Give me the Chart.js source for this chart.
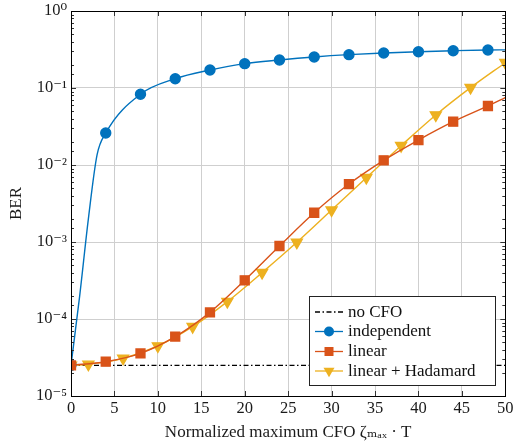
<!DOCTYPE html>
<html>
<head>
<meta charset="utf-8">
<script src="https://cdn.jsdelivr.net/npm/chart.js@4"></script>
<style>
  html, body { margin: 0; padding: 0; background: #fff; }
  #berChart { display: block; }
</style>
</head>
<body>
<canvas id="berChart" width="513" height="443"></canvas>
<script>
// values
const indepX = [0, 1, 2, 3, 4, 8, 12, 16, 20, 24, 28, 32, 36, 40, 44, 48, 50];
const indepBer = [2.5e-5, 2.0e-4, 2.0e-3, 1.35e-2, 0.026, 0.083, 0.132, 0.171, 0.207, 0.231, 0.253, 0.271, 0.285, 0.296, 0.305, 0.312, 0.313];
const indepMarks = [1, 0, 0, 0, 1, 1, 1, 1, 1, 1, 1, 1, 1, 1, 1, 1, 0];

const linX = [0, 4, 8, 12, 16, 20, 24, 28, 32, 36, 40, 44, 48, 50];
const linBer = [2.5e-5, 2.79e-5, 3.58e-5, 5.9e-5, 1.22e-4, 3.18e-4, 8.87e-4, 2.4e-3, 5.66e-3, 0.0115, 0.0211, 0.0365, 0.0584, 0.0748];
const linMarks = [1, 1, 1, 1, 1, 1, 1, 1, 1, 1, 1, 1, 1, 0];

const hadX = [0, 2, 6, 10, 14, 18, 22, 26, 30, 34, 38, 42, 46, 50];
const hadBer = [2.5e-5, 2.58e-5, 3.08e-5, 4.46e-5, 7.94e-5, 1.68e-4, 4.0e-4, 9.9e-4, 2.6e-3, 6.85e-3, 0.0178, 0.0446, 0.101, 0.213];

const noCfoX = [0, 50];
const noCfoBer = [2.5e-5, 2.5e-5];

const legendLabels = ["no CFO", "independent", "linear", "linear + Hadamard"];

const BLUE = "#0072BD";
const ORANGE = "#D95319";
const YELLOW = "#EDB120";
const SERIF = "'Liberation Serif', 'DejaVu Serif', serif";

const pts = (xs, ys) => xs.map((x, i) => ({ x: x, y: ys[i] }));

const SUP = { "0": "⁰", "1": "¹", "2": "²", "3": "³", "4": "⁴", "5": "⁵", "-": "⁻" };
const isDecade = (v) => {
  const e = Math.log10(v);
  return Math.abs(e - Math.round(e)) < 1e-6;
};
const decadeLabel = (v) => {
  const e = String(Math.round(Math.log10(v)));
  return "10" + e.split("").map((c) => SUP[c]).join("");
};

// frame, inward ticks and the legend box, drawn on top of the chart
const framePlugin = {
  id: "frame",
  afterDraw(chart) {
    const ctx = chart.ctx;
    const a = chart.chartArea;
    const ys = chart.scales.y;
    const xs = chart.scales.x;
    ctx.save();
    ctx.strokeStyle = "#333";
    ctx.lineWidth = 1;
    ctx.beginPath();
    ys.ticks.forEach((t) => {
      const py = Math.round(ys.getPixelForValue(t.value)) + 0.5;
      const len = isDecade(t.value) ? 5 : 3;
      ctx.moveTo(a.left, py); ctx.lineTo(a.left + len, py);
      ctx.moveTo(a.right, py); ctx.lineTo(a.right - len, py);
    });
    xs.ticks.forEach((t) => {
      const px = Math.round(xs.getPixelForValue(t.value)) + 0.5;
      ctx.moveTo(px, a.top); ctx.lineTo(px, a.top + 5);
      ctx.moveTo(px, a.bottom); ctx.lineTo(px, a.bottom - 5);
    });
    ctx.stroke();
    ctx.strokeStyle = "#000";
    ctx.strokeRect(Math.round(a.left) + 0.5, Math.round(a.top) + 0.5,
      Math.round(a.right - a.left), Math.round(a.bottom - a.top));

    // legend
    const bx = 309.5, by = 296.5, bw = 186, bh = 89;
    ctx.fillStyle = "#fff";
    ctx.fillRect(bx, by, bw, bh);
    ctx.strokeStyle = "#222";
    ctx.strokeRect(bx, by, bw, bh);
    const rows = [312, 331.5, 351.5, 371];
    const styles = [
      { color: "#000", dash: [5, 2.5, 1.5, 2.5], mark: null },
      { color: BLUE, dash: [], mark: "circle" },
      { color: ORANGE, dash: [], mark: "rect" },
      { color: YELLOW, dash: [], mark: "tri" }
    ];
    styles.forEach((s, i) => {
      const y = rows[i];
      ctx.setLineDash(s.dash);
      ctx.strokeStyle = s.color;
      ctx.lineWidth = 1.3;
      ctx.beginPath();
      ctx.moveTo(315, y); ctx.lineTo(343, y);
      ctx.stroke();
      ctx.setLineDash([]);
      ctx.fillStyle = s.color;
      ctx.beginPath();
      if (s.mark === "circle") {
        ctx.arc(329, y, 5, 0, Math.PI * 2);
      } else if (s.mark === "rect") {
        ctx.rect(324.5, y - 4.5, 9, 9);
      } else if (s.mark === "tri") {
        ctx.moveTo(323.5, y - 3.2); ctx.lineTo(334.5, y - 3.2); ctx.lineTo(329, y + 6.3); ctx.closePath();
      }
      if (s.mark) ctx.fill();
      ctx.fillStyle = "#111";
      ctx.font = "17px " + SERIF;
      ctx.textBaseline = "middle";
      ctx.textAlign = "left";
      ctx.fillText(legendLabels[i], 348, y + 0.5);
    });
    ctx.restore();
  }
};

new Chart(document.getElementById("berChart"), {
  type: "line",
  data: {
    datasets: [
      {
        label: legendLabels[0],
        data: pts(noCfoX, noCfoBer),
        borderColor: "#000",
        borderWidth: 1.2,
        borderDash: [5, 2.5, 1.5, 2.5],
        pointRadius: 0,
        order: 3
      },
      {
        label: legendLabels[1],
        data: pts(indepX, indepBer),
        borderColor: BLUE,
        backgroundColor: BLUE,
        borderWidth: 1.4,
        pointStyle: "circle",
        pointRadius: indepMarks.map((m) => (m ? 5 : 0)),
        cubicInterpolationMode: "monotone",
        order: 1
      },
      {
        label: legendLabels[2],
        data: pts(linX, linBer),
        borderColor: ORANGE,
        backgroundColor: ORANGE,
        borderWidth: 1.4,
        pointStyle: "rect",
        pointRadius: linMarks.map((m) => (m ? 6.3 : 0)),
        cubicInterpolationMode: "monotone",
        order: 0
      },
      {
        label: legendLabels[3],
        data: pts(hadX, hadBer),
        borderColor: YELLOW,
        backgroundColor: YELLOW,
        borderWidth: 1.4,
        pointStyle: "triangle",
        pointRotation: 180,
        pointRadius: 6.3,
        cubicInterpolationMode: "monotone",
        order: 2
      }
    ]
  },
  options: {
    responsive: false,
    animation: false,
    events: [],
    layout: { padding: { top: 11, right: 6, left: 0, bottom: 0 } },
    plugins: {
      legend: { display: false },
      tooltip: { enabled: false }
    },
    scales: {
      x: {
        type: "linear",
        min: 0,
        max: 50,
        border: { display: false },
        grid: { color: "#cfcfcf", lineWidth: 1, drawTicks: false },
        ticks: {
          stepSize: 5,
          padding: 3,
          color: "#1a1a1a",
          font: { family: SERIF, size: 16.5 }
        },
        title: {
          display: true,
          text: "Normalized maximum CFO ζₘₐₓ · T",
          color: "#1a1a1a",
          padding: { top: 1, bottom: 0 },
          font: { family: SERIF, size: 17 }
        },
        afterFit(s) {
          s.height = 47;
          s.paddingLeft = 0;
          s.paddingRight = 0;
        }
      },
      y: {
        type: "logarithmic",
        min: 1e-5,
        max: 1,
        border: { display: false },
        grid: {
          color: (c) => (c.tick && isDecade(c.tick.value) ? "#cfcfcf" : "rgba(0,0,0,0)"),
          lineWidth: 1,
          drawTicks: false
        },
        ticks: {
          autoSkip: false,
          padding: 4,
          color: "#1a1a1a",
          font: { family: SERIF, size: 16.5 },
          callback: (v) => (isDecade(v) ? decadeLabel(v) : "")
        },
        title: {
          display: true,
          text: "BER",
          color: "#1a1a1a",
          padding: { top: 6, bottom: 0 },
          font: { family: SERIF, size: 17 }
        },
        afterFit(s) {
          s.width = 71;
          s.paddingTop = 0;
          s.paddingBottom = 0;
        }
      }
    }
  },
  plugins: [framePlugin]
});
</script>
</body>
</html>
